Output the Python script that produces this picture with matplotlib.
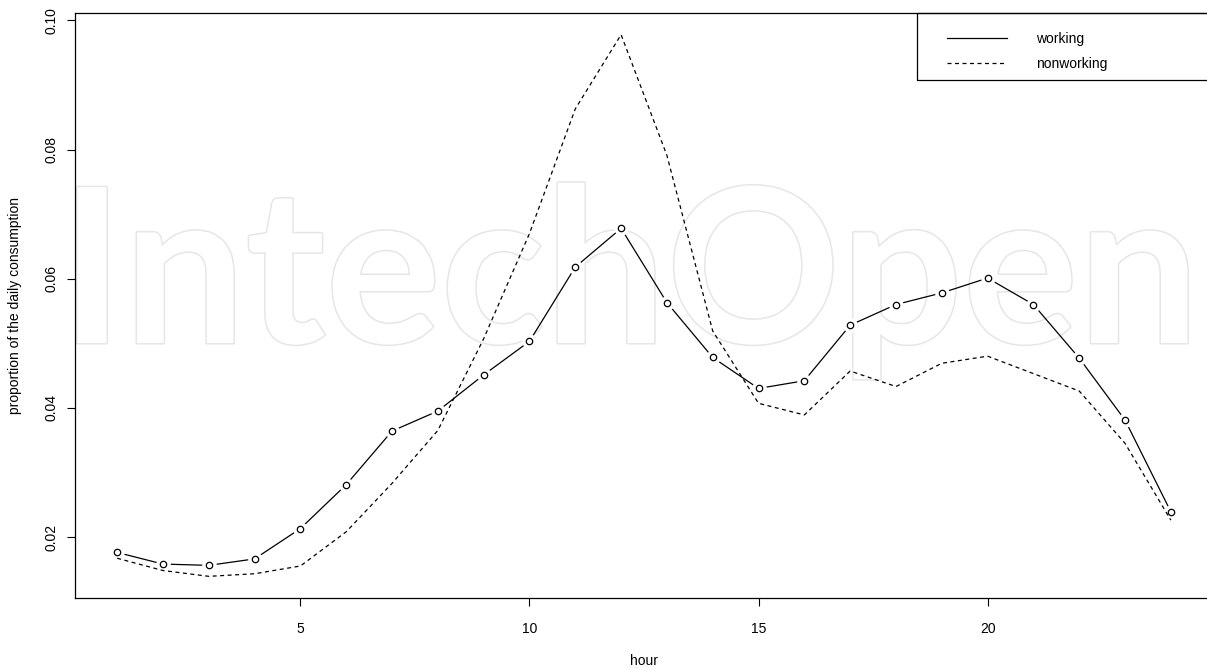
import numpy as np
import matplotlib
matplotlib.use("Agg")
import matplotlib.pyplot as plt
from matplotlib.patches import Rectangle
from matplotlib.lines import Line2D
import matplotlib.patheffects as pe

hours = list(range(1, 25))
working = [0.0176, 0.0158, 0.0156, 0.0166, 0.0213, 0.0281, 0.0364, 0.0395,
           0.0451, 0.0503, 0.0618, 0.0678, 0.0563, 0.0478, 0.0430, 0.0442,
           0.0528, 0.0560, 0.0578, 0.0601, 0.0560, 0.0477, 0.0381, 0.0239]
nonworking = [0.0167, 0.0148, 0.0139, 0.0143, 0.0155, 0.0208, 0.0283, 0.0365,
              0.0507, 0.0670, 0.0863, 0.0978, 0.0791, 0.0519, 0.0407, 0.0389,
              0.0457, 0.0433, 0.0469, 0.0480, 0.0453, 0.0426, 0.0345, 0.0226]
x_ticks = [5, 10, 15, 20]
y_ticks = [0.02, 0.04, 0.06, 0.08, 0.10]
series_labels = ["working", "nonworking"]

plt.rcParams['font.family'] = ['Liberation Sans', 'DejaVu Sans']

W, H = 1207, 669
fig = plt.figure(figsize=(W / 100, H / 100), dpi=100)
# axes box in pixels: left 75, right 1213 (cropped), top 13, bottom 598
ax = fig.add_axes([75 / W, (H - 598) / H, (1213 - 75) / W, (598 - 13) / H])

# R-style 4% axis extension
xmin, xmax = min(hours), max(hours)
xr = xmax - xmin
ax.set_xlim(xmin - 0.04 * xr, xmax + 0.04 * xr)
allv = working + nonworking
ymin, ymax = min(allv), max(allv)
yr = ymax - ymin
ax.set_ylim(ymin - 0.04 * yr, ymax + 0.04 * yr)

# watermark
wm = ax.text(60 / W, 1 - 343 / H, "IntechOpen", transform=fig.transFigure,
             fontsize=150, family='Lato', fontweight='bold', color='white',
             zorder=0.5, ha='left', va='baseline',
             path_effects=[pe.withStroke(linewidth=2.2, foreground='#e6e6e6')])
fig.canvas.draw()
bb = wm.get_window_extent()
wm.set_fontsize(150 * 1140 / bb.width)

lw = 0.9
dash = (3.2, 2.8)
ax.plot(hours, working, color='black', lw=lw, zorder=2)
ax.plot(hours, working, linestyle='none', marker='o', ms=9.5,
        mfc='white', mec='white', zorder=3)
ax.plot(hours, nonworking, color='black', lw=lw, dashes=dash, zorder=4)
ax.plot(hours, working, linestyle='none', marker='o', ms=4.6,
        mfc='none', mec='black', mew=0.9, zorder=5)

ax.set_xticks(x_ticks)
ax.set_xticklabels([str(v) for v in x_ticks])
ax.set_yticks(y_ticks)
ax.set_yticklabels([f"{v:.2f}" for v in y_ticks], rotation=90, va='center')
ax.tick_params(axis='both', direction='out', length=5.5, width=0.8,
               labelsize=10, color='black')
ax.tick_params(axis='x', pad=12)
ax.tick_params(axis='y', pad=6.5)
for s in ax.spines.values():
    s.set_linewidth(0.9)
    s.set_color('black')

ax.set_xlabel("hour", fontsize=10, labelpad=12.5)
ax.set_ylabel("proportion of the daily consumption", fontsize=10, labelpad=16)

# legend (frame drawn R-style)
handles = [Line2D([], [], color='black', lw=lw),
           Line2D([], [], color='black', lw=lw, dashes=dash)]
ax_w = 1213 - 75
ax_h = 598 - 13
leg = ax.legend(handles, series_labels, loc='upper left',
                bbox_to_anchor=((947 - 75) / ax_w, (598 - 31.5) / ax_h),
                frameon=False, borderpad=0, borderaxespad=0, fontsize=10,
                handlelength=4.32, handletextpad=2.09, labelspacing=0.8)
ax.add_patch(Rectangle(((917 - 75) / ax_w, (598 - 80) / ax_h),
                       (1213 - 917) / ax_w, 67 / ax_h,
                       transform=ax.transAxes, fill=False, ec='black',
                       lw=0.9, clip_on=False, zorder=6))

fig.savefig("out.png", dpi=100)
